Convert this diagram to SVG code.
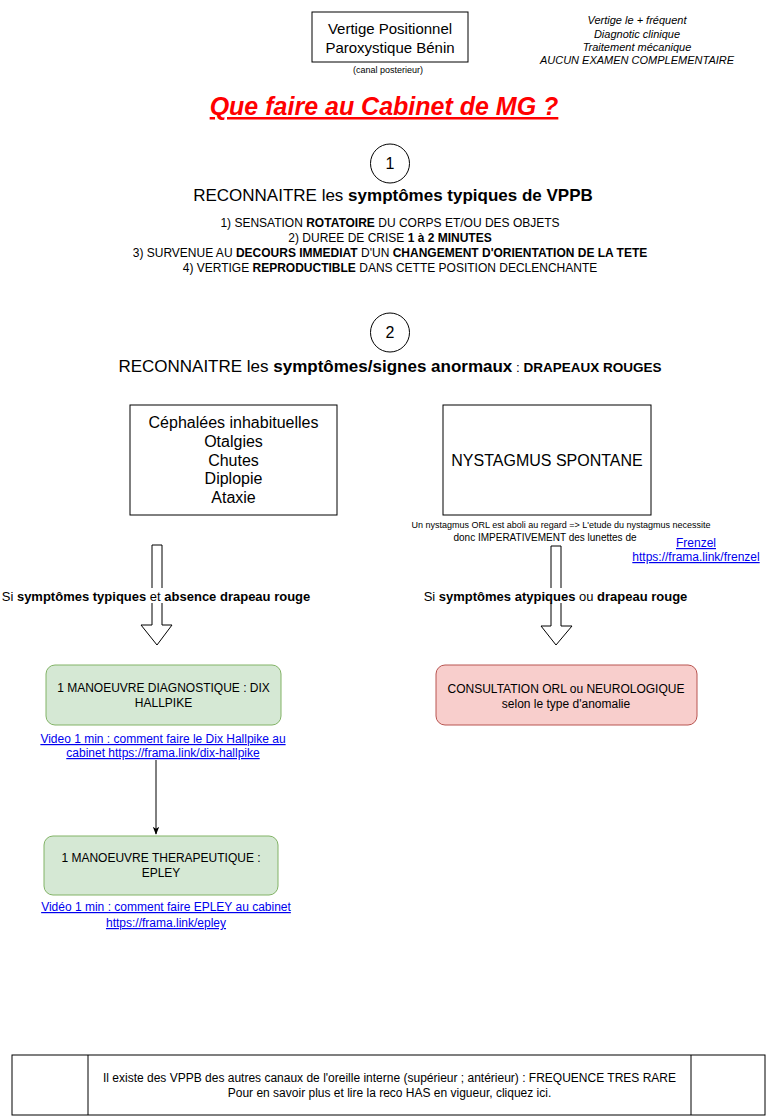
<svg xmlns="http://www.w3.org/2000/svg" width="777" height="1116" viewBox="0 0 777 1116">
<defs>
<style>
text{font-family:"Liberation Sans",Arial,Helvetica,sans-serif;fill:#000;}
.c{text-anchor:middle;}
.b{font-weight:bold;}
.box{fill:#fff;stroke:#000;stroke-width:1;}
.green{fill:#d5e8d4;stroke:#82b366;stroke-width:1;}
.red{fill:#f8cecc;stroke:#b85450;stroke-width:1;}
.link{fill:#0000ee;text-decoration:underline;font-size:12px;}
.t12{font-size:12px;}
.t13{font-size:13px;}
.t16{font-size:16px;}
.t17{font-size:17px;}
.it{font-size:11px;font-style:italic;}
.barrow{fill:#fff;stroke:#000;stroke-width:1;}
.edge{fill:none;stroke:#000;stroke-width:1;}
</style>
<marker id="arr" viewBox="0 0 10 10" refX="9" refY="5" markerWidth="8" markerHeight="8" markerUnits="userSpaceOnUse" orient="auto">
<path d="M0,1 L10,5 L0,9 L2.5,5 Z" fill="#000"/>
</marker>
</defs>
<rect width="777" height="1116" fill="#fff"/>

<g id="titlebox">
<rect class="box" x="312" y="12" width="156" height="50"/>
<text class="c" x="390" y="33.5" font-size="15">Vertige Positionnel</text>
<text class="c" x="390" y="52.5" font-size="15">Paroxystique Bénin</text>
<text class="c" x="388" y="73" font-size="9">(canal posterieur)</text>
</g>

<g id="toprightnote">
<text class="c it" x="637" y="24">Vertige le + fréquent</text>
<text class="c it" x="637" y="37.5">Diagnotic clinique</text>
<text class="c it" x="637" y="51">Traitement mécanique</text>
<text class="c it" x="637" y="64">AUCUN EXAMEN COMPLEMENTAIRE</text>
</g>

<g id="maintitle">
<text class="c b" x="384" y="115" font-size="25" font-style="italic" style="fill:#ff0000;text-decoration:underline">Que faire au Cabinet de MG ?</text>
</g>

<g id="step1">
<circle cx="390" cy="163.5" r="19.5" fill="#fff" stroke="#000"/>
<text class="c t16" x="390" y="169">1</text>
<text class="c t17" x="393" y="201">RECONNAITRE les <tspan class="b">symptômes typiques de VPPB</tspan></text>
<text class="c t12" x="390" y="227">1) SENSATION <tspan class="b">ROTATOIRE</tspan> DU CORPS ET/OU DES OBJETS</text>
<text class="c t12" x="390" y="242">2) DUREE DE CRISE <tspan class="b">1 à 2 MINUTES</tspan></text>
<text class="c t12" x="390" y="257">3) SURVENUE AU <tspan class="b">DECOURS IMMEDIAT</tspan> D'UN <tspan class="b">CHANGEMENT D'ORIENTATION DE LA TETE</tspan></text>
<text class="c t12" x="390" y="272">4) VERTIGE <tspan class="b">REPRODUCTIBLE</tspan> DANS CETTE POSITION DECLENCHANTE</text>
</g>

<g id="step2">
<circle cx="390" cy="332.5" r="19.5" fill="#fff" stroke="#000"/>
<text class="c t16" x="390" y="338">2</text>
<text class="c t17" x="390" y="372">RECONNAITRE les <tspan class="b">symptômes/signes anormaux</tspan><tspan font-size="13.5"> : </tspan><tspan class="b" font-size="13.5">DRAPEAUX ROUGES</tspan></text>
</g>

<g id="redflags">
<rect class="box" x="130" y="405" width="207" height="110"/>
<text class="c t16" x="233.5" y="428">Céphalées inhabituelles</text>
<text class="c t16" x="233.5" y="447">Otalgies</text>
<text class="c t16" x="233.5" y="465.5">Chutes</text>
<text class="c t16" x="233.5" y="484">Diplopie</text>
<text class="c t16" x="233.5" y="502.5">Ataxie</text>
</g>

<g id="nystagmus">
<rect class="box" x="443" y="405" width="208" height="110"/>
<text class="c t16" x="547" y="466">NYSTAGMUS SPONTANE</text>
</g>

<g id="nystnote">
<text class="c" x="561" y="528" font-size="9">Un nystagmus ORL est aboli au regard =&gt; L'etude du nystagmus necessite</text>
<text class="c" x="545" y="541" font-size="10">donc IMPERATIVEMENT des lunettes de</text>
</g>

<g id="frenzel">
<text class="c link" x="696" y="547">Frenzel</text>
<text class="c link" x="696" y="561">https://frama.link/frenzel</text>
</g>

<g id="connectors">
<path class="barrow" d="M152,545 L162,545 L162,625 L172,625 L157,645 L141,625 L152,625 Z"/>
<path class="barrow" d="M551,546 L561,546 L561,626 L572,626 L556,645 L541,626 L551,626 Z"/>
<line class="edge" x1="156" y1="760" x2="156" y2="834" marker-end="url(#arr)"/>
</g>

<g id="label-left">
<rect x="3" y="588" width="307" height="15" fill="#fff"/>
<text class="c t13" x="156" y="600.5">Si <tspan class="b">symptômes typiques</tspan> et <tspan class="b">absence drapeau rouge</tspan></text>
</g>

<g id="label-right">
<rect x="422" y="588" width="267" height="15" fill="#fff"/>
<text class="c t13" x="555.5" y="600.5">Si <tspan class="b">symptômes atypiques</tspan> ou <tspan class="b">drapeau rouge</tspan></text>
</g>

<g id="dixhallpike">
<rect class="green" x="46" y="665" width="235" height="60" rx="9"/>
<text class="c t12" x="163.5" y="692">1 MANOEUVRE DIAGNOSTIQUE : DIX</text>
<text class="c t12" x="163.5" y="707">HALLPIKE</text>
<text class="c link" x="163" y="743">Video 1 min : comment faire le Dix Hallpike au</text>
<text class="c link" x="163" y="757">cabinet https://frama.link/dix-hallpike</text>
</g>

<g id="epley">
<rect class="green" x="44" y="836" width="234" height="59" rx="9"/>
<text class="c t12" x="161" y="862">1 MANOEUVRE THERAPEUTIQUE :</text>
<text class="c t12" x="161" y="877">EPLEY</text>
<text class="c link" x="166" y="911">Vidéo 1 min : comment faire EPLEY au cabinet</text>
<text class="c link" x="166" y="927">https://frama.link/epley</text>
</g>

<g id="consultation">
<rect class="red" x="436" y="665" width="261" height="60" rx="9"/>
<text class="c t12" x="566" y="693">CONSULTATION ORL ou NEUROLOGIQUE</text>
<text class="c t12" x="566" y="708">selon le type d'anomalie</text>
</g>

<g id="footer">
<rect class="box" x="12" y="1055" width="753" height="60"/>
<line class="edge" x1="88" y1="1055" x2="88" y2="1115"/>
<line class="edge" x1="691" y1="1055" x2="691" y2="1115"/>
<text class="c t12" x="389.5" y="1082">Il existe des VPPB des autres canaux de l'oreille interne (supérieur ; antérieur) : FREQUENCE TRES RARE</text>
<text class="c t12" x="389.5" y="1097">Pour en savoir plus et lire la reco HAS en vigueur, cliquez ici.</text>
</g>
</svg>
